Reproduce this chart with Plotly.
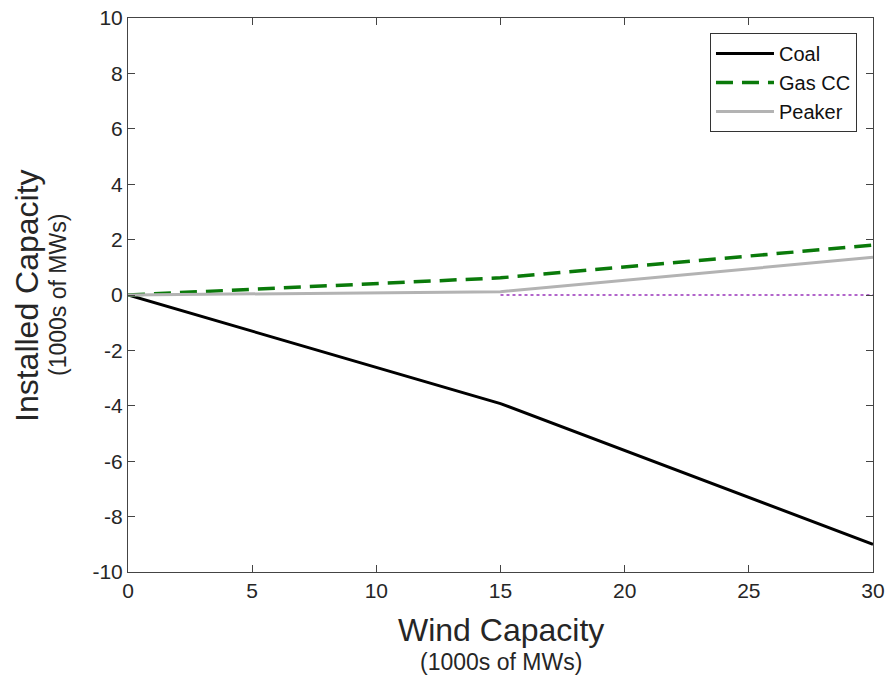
import plotly.graph_objects as go

wind = [0, 15, 30]
coal = [0, -3.92, -9.0]
gas_cc = [0, 0.62, 1.80]
peaker = [0, 0.12, 1.36]
ref_x = [15, 30]
ref_y = [0, 0]

x_ticks = [0, 5, 10, 15, 20, 25, 30]
y_ticks = [-10, -8, -6, -4, -2, 0, 2, 4, 6, 8, 10]
y_tick_labels = ["-10", "-8", "-6", "-4", "-2", "0", "2", "4", "6", "8", "10"]

font = "Liberation Sans, Arial, Helvetica, sans-serif"

fig = go.Figure()
fig.add_trace(go.Scatter(x=ref_x, y=ref_y, mode="lines", showlegend=False,
                         line=dict(color="#9933bb", width=1.3, dash="dot")))
fig.add_trace(go.Scatter(x=wind, y=coal, mode="lines", name="Coal",
                         line=dict(color="black", width=3)))
fig.add_trace(go.Scatter(x=wind, y=gas_cc, mode="lines", name="Gas CC",
                         line=dict(color="#0a7a0a", width=3.5, dash="17px,9px")))
fig.add_trace(go.Scatter(x=wind, y=peaker, mode="lines", name="Peaker",
                         line=dict(color="#b3b3b3", width=3)))

fig.update_layout(
    width=887, height=685,
    margin=dict(l=128, r=14, t=18, b=113, autoexpand=False),
    paper_bgcolor="white", plot_bgcolor="white",
    font=dict(family=font, size=21, color="#262626"),
    showlegend=True,
    legend=dict(x=0.9785, y=0.973, xanchor="right", yanchor="top",
                bgcolor="white", bordercolor="#333", borderwidth=1,
                font=dict(size=20, color="#111"), tracegroupgap=0,
                itemwidth=58),
    xaxis=dict(range=[0, 30], tickvals=x_ticks, ticks="inside", ticklen=7,
               tickcolor="#444", showline=True, linecolor="#444", linewidth=1,
               mirror="allticks", showgrid=False, zeroline=False, automargin=False,
               tickfont=dict(size=21, color="#262626")),
    yaxis=dict(range=[-10, 10], tickvals=y_ticks, ticktext=y_tick_labels,
               ticks="inside", ticklen=7,
               tickcolor="#444", showline=True, linecolor="#444", linewidth=1,
               mirror="allticks", showgrid=False, zeroline=False, automargin=False,
               tickfont=dict(size=21, color="#262626")),
    annotations=[
        dict(text="Wind Capacity", xref="paper", yref="paper", x=0.5, y=-0.1047,
             xanchor="center", yanchor="middle", showarrow=False,
             font=dict(size=32, color="#262626")),
        dict(text="(1000s of MWs)", xref="paper", yref="paper", x=0.5, y=-0.162,
             xanchor="center", yanchor="middle", showarrow=False,
             font=dict(size=23, color="#262626")),
        dict(text="Installed Capacity", xref="paper", yref="paper", x=-0.1356, y=0.5,
             xanchor="center", yanchor="middle", showarrow=False, textangle=-90,
             font=dict(size=32, color="#262626")),
        dict(text="(1000s of MWs)", xref="paper", yref="paper", x=-0.094, y=0.5,
             xanchor="center", yanchor="middle", showarrow=False, textangle=-90,
             font=dict(size=23, color="#262626")),
    ],
)

fig.write_html("out.html", config={"displayModeBar": False},
               post_script="document.body.style.margin='0';")
